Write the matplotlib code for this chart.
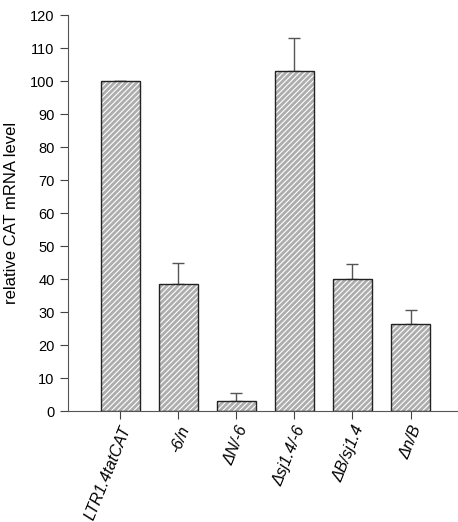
import matplotlib.pyplot as plt

# --- Daten ---
konstrukte = ["LTR1.4tatCAT", "-6/n", "ΔN/-6", "Δsj1.4/-6", "ΔB/sj1.4", "Δn/B"]
werte = [100, 38.5, 3, 103, 40, 26.5]
fehler = [0, 6.5, 2.5, 10, 4.5, 4]

plt.rcParams['font.family'] = ['Liberation Sans', 'DejaVu Sans']
plt.rcParams['hatch.linewidth'] = 0.8

fig = plt.figure(figsize=(4.58, 5.22), dpi=100)
ax = fig.add_axes([0.148, 0.2126, 0.85, 0.7586])

x = range(len(werte))
# Fuellung mit weisser Schraffur
ax.bar(x, werte, width=0.67, color='#adadad', edgecolor='white', hatch='//////', linewidth=0, zorder=2)
# Rahmen
ax.bar(x, werte, width=0.67, fill=False, edgecolor='#222222', linewidth=1.0, zorder=3)

# nur obere Fehlerbalken
ax.errorbar(x, werte, yerr=[[0] * len(fehler), fehler], fmt='none', ecolor='#555555',
            elinewidth=1.0, capsize=4, capthick=1.0, zorder=1)

ax.set_xlim(-0.9, 5.8)
ax.set_ylim(0, 120)
ax.set_yticks(range(0, 121, 10))
ax.set_xticks(list(x))
ax.set_xticklabels(konstrukte, rotation=68, ha='right', rotation_mode='anchor',
                   fontstyle='italic', fontsize=11.5)
ax.tick_params(axis='y', labelsize=10.5, length=6, width=0.8, color='#444444')
ax.tick_params(axis='x', length=6, width=0.8, color='#444444', pad=3)
ax.set_ylabel("relative CAT mRNA level", fontsize=12, labelpad=8)

ax.spines['top'].set_visible(False)
ax.spines['right'].set_visible(False)
ax.spines['left'].set_color('#555555')
ax.spines['bottom'].set_color('#555555')

fig.savefig("out.png", dpi=100)
